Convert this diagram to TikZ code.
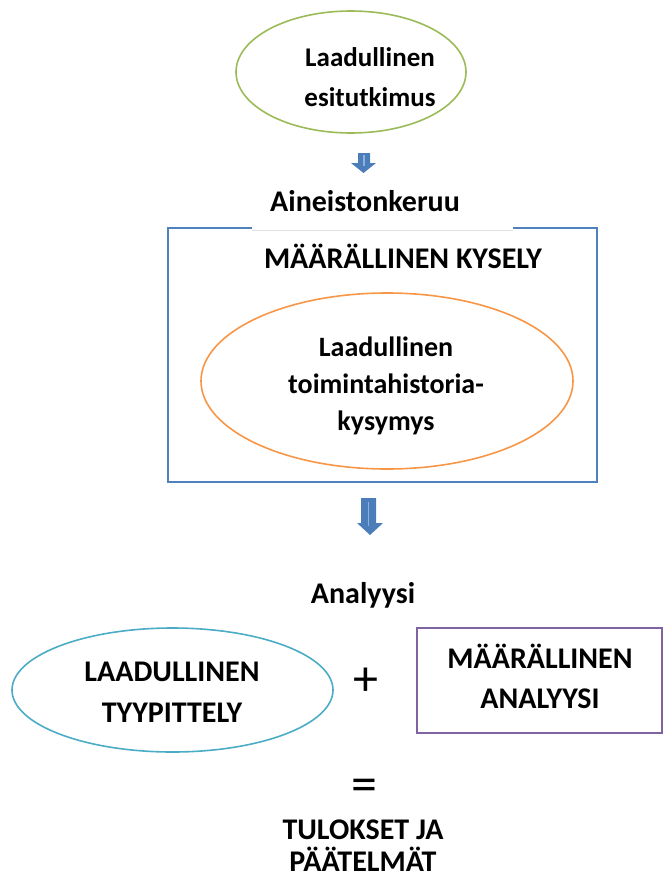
\documentclass[tikz,border=0pt]{standalone}
\usepackage{fontspec}
\setmainfont{Carlito}
\definecolor{ovalgreen}{HTML}{9BBB59}
\definecolor{ovalorange}{HTML}{F79646}
\definecolor{ovalteal}{HTML}{4BACC6}
\definecolor{boxblue}{HTML}{4F81BD}
\definecolor{boxpurple}{HTML}{8064A2}
\definecolor{arrowblue}{HTML}{4A7DBA}
\definecolor{arrowlight}{HTML}{8DB0DC}
\tikzset{
  lbl/.style={font=\fontsize{30}{40}\selectfont\bfseries, align=center, inner sep=0pt},
  sign/.style={font=\fontsize{52}{52}\selectfont, inner sep=0pt}
}
\begin{document}
\begin{tikzpicture}[x=1pt,y=-1pt]
\useasboundingbox (0,0) rectangle (663,878);
% top oval
\draw [ovalgreen, line width=1.6pt] (351,72) ellipse (115pt and 61pt);
\node [lbl, font=\fontsize{27}{40}\selectfont\bfseries] (esi) at (370,77) {Laadullinen\\esitutkimus};

% arrow 1
\fill [arrowblue] (358,153) -- (370,153) -- (370,163) -- (376,163) -- (363.5,173) -- (351,163) -- (358,163) -- cycle;
\draw [arrowlight, line width=1.5pt] (364,155) -- (364,166);

% survey box
\draw [boxblue, line width=1.6pt] (168,228) rectangle (597,482);
\fill [white] (252,176) rectangle (513,229.5);
\draw [black!12] (252,230) -- (513,230);
\node [lbl] (keruu) at (365,201) {Aineistonkeruu};
\node [lbl] (kysely) at (403,256) {MÄÄRÄLLINEN KYSELY};
\draw [ovalorange, line width=1.6pt] (387,381) ellipse (186pt and 88pt);
\node [lbl, font=\fontsize{28}{37}\selectfont\bfseries] (hist) at (386,386) {Laadullinen\\toimintahistoria-\\kysymys};

% arrow 2
\fill [arrowblue] (361,498) -- (376,498) -- (376,523) -- (383,523) -- (370,535) -- (357,523) -- (361,523) -- cycle;
\draw [arrowlight, line width=1.5pt] (368.5,502) -- (368.5,526);

% analysis
\node [lbl] (analyysi) at (363,595) {Analyysi};
\draw [ovalteal, line width=1.6pt] (172.5,690) ellipse (160.5pt and 62pt);
\node [lbl, font=\fontsize{30}{41}\selectfont\bfseries] (tyyp) at (172,692) {LAADULLINEN\\TYYPITTELY};
\node [sign, font=\fontsize{50}{50}\selectfont] (plus) at (366,682) {+};
\draw [boxpurple, line width=1.6pt] (417,628) rectangle (662,733);
\node [lbl] (maar) at (540,676) {MÄÄRÄLLINEN\\ANALYYSI};

% result
\node [sign] (eq) at (364,790) {=};
\node [lbl, font=\fontsize{30}{32}\selectfont\bfseries] (tulos) at (363,846) {TULOKSET JA\\PÄÄTELMÄT};

\end{tikzpicture}
\end{document}
